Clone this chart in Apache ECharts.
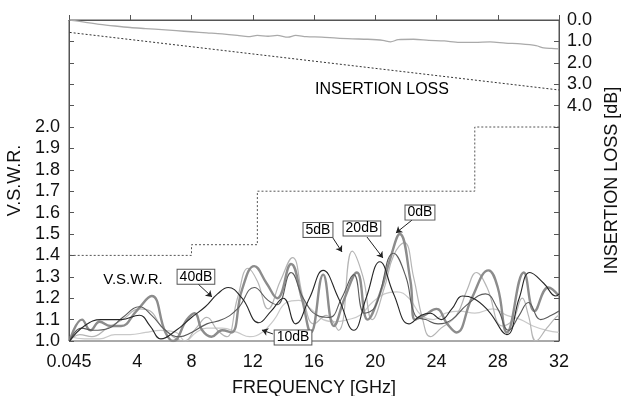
<!DOCTYPE html>
<html>
<head>
<meta charset="utf-8">
<script src="https://cdn.jsdelivr.net/npm/echarts@6/dist/echarts.min.js"></script>
<style>html,body{margin:0;padding:0;background:#fff;}#c{width:623px;height:396px;}</style>
</head>
<body>
<div id="c"></div>
<script>
// ---- data ----
const xTicks = [0, 4, 8, 12, 16, 20, 24, 28, 32];
const xTickLabels = ['0.045', '4', '8', '12', '16', '20', '24', '28', '32'];
const vswrLabelsMax = 2.0;   // left axis labels shown 1.0 .. 2.0
const lossLabelsMax = 4;     // right axis labels shown 0.0 .. 4.0

const vswr40dB = [[0.045,1.0],[1.0,1.07],[2.1,1.1],[3.4,1.1],[4.6,1.12],[5.3,1.07],[6.0,1.01],[7.0,1.05],[8.0,1.11],[8.9,1.16],[9.7,1.22],[10.4,1.25],[11.3,1.2],[12.4,1.085],[13.2,1.14],[14.0,1.2],[14.8,1.08],[15.7,1.2],[16.6,1.33],[17.6,1.2],[18.6,1.05],[19.4,1.2],[20.3,1.37],[21.2,1.22],[22.2,1.08],[23.0,1.12],[23.6,1.13],[24.3,1.1],[25.0,1.15],[25.7,1.21],[26.4,1.2],[27.4,1.14],[28.6,1.03],[29.4,1.2],[30.1,1.32],[31.0,1.27],[31.8,1.21],[32,1.22]];
const vswr20dB = [[0.045,1.0],[0.8,1.06],[1.6,1.05],[2.6,1.06],[3.5,1.11],[4.6,1.16],[5.4,1.12],[6.3,1.05],[7.2,1.02],[8.0,1.04],[9.0,1.08],[10.0,1.1],[11.0,1.15],[12.1,1.25],[13.0,1.19],[13.6,1.17],[14.5,1.32],[15.3,1.2],[16.2,1.12],[17.0,1.11],[17.8,1.2],[18.6,1.31],[19.3,1.13],[20.0,1.16],[21.2,1.41],[22.0,1.3],[22.6,1.12],[23.3,1.1],[24.1,1.08],[25.0,1.1],[26.0,1.17],[27.2,1.22],[28.0,1.15],[28.7,1.05],[29.4,1.12],[30.0,1.18],[30.8,1.1],[31.5,1.12],[32,1.14]];
const vswr0dB = [[0.045,1.0],[0.85,1.1],[1.4,1.05],[2.0,1.09],[2.7,1.07],[3.4,1.07],[4.4,1.14],[5.4,1.21],[6.3,1.04],[6.8,1.0],[7.7,1.1],[8.2,1.13],[8.7,1.05],[9.3,1.02],[10.0,1.05],[10.6,1.04],[11.3,1.24],[12.1,1.35],[12.9,1.27],[13.6,1.2],[14.5,1.36],[15.2,1.2],[15.8,1.04],[16.6,1.31],[17.3,1.07],[18.0,1.2],[18.8,1.32],[19.5,1.1],[20.3,1.22],[21.0,1.39],[21.6,1.5],[22.3,1.28],[22.6,1.1],[23.2,1.12],[24.0,1.15],[24.7,1.08],[25.3,1.04],[26.3,1.2],[27.4,1.33],[28.0,1.25],[28.6,1.04],[29.7,1.32],[30.4,1.14],[31.3,1.25],[32,1.21]];
const vswr5dB = [[0.045,1.0],[0.7,1.03],[1.5,1.02],[2.5,1.06],[3.5,1.1],[4.6,1.15],[5.3,1.14],[6.0,1.07],[6.8,1.02],[7.5,1.0],[8.3,1.06],[9.0,1.11],[9.7,1.05],[10.3,1.02],[11.0,1.2],[11.7,1.34],[12.3,1.28],[13.0,1.15],[13.8,1.28],[14.6,1.39],[15.3,1.2],[16.0,1.08],[16.8,1.12],[17.6,1.05],[18.5,1.42],[19.2,1.3],[19.8,1.1],[20.6,1.25],[21.2,1.4],[21.9,1.46],[22.5,1.3],[23.1,1.1],[23.6,1.02],[24.3,1.06],[25.3,1.12],[26.0,1.24],[26.6,1.32],[27.3,1.25],[28.3,1.07],[29.0,1.1],[29.6,1.2],[30.0,1.12],[30.5,1.0],[31.2,1.06],[31.8,1.11],[32,1.12]];
const vswr10dB = [[0.045,1.02],[1,1.01],[2,1.01],[3,1.03],[4,1.03],[5,1.04],[6,1.05],[7,1.04],[7.6,1.0],[8.3,1.04],[9,1.06],[10,1.06],[11,1.04],[11.8,1.02],[12.6,1.04],[13.4,1.1],[14.2,1.18],[15,1.19],[15.8,1.15],[16.6,1.1],[17.4,1.09],[18.2,1.1],[19,1.12],[19.8,1.18],[20.6,1.22],[21.4,1.23],[22.2,1.2],[23,1.12],[23.8,1.1],[24.6,1.13],[25.5,1.14],[26.5,1.13],[27.7,1.15],[28.6,1.12],[29.5,1.1],[30.3,1.07],[31.2,1.05],[32,1.04]];
const vswrLimit = [[0.045,1.4],[8,1.4],[8,1.45],[12.3,1.45],[12.3,1.7],[26.5,1.7],[26.5,2.0],[32,2.0]];

const lossMeasured = [[0.045,0.0],[1,0.1],[2,0.2],[3,0.28],[4,0.35],[5,0.4],[5.6,0.43],[7,0.5],[8,0.55],[9,0.6],[10,0.65],[11,0.72],[11.7,0.78],[12.3,0.72],[13,0.76],[13.6,0.72],[14.3,0.8],[14.8,0.72],[15.5,0.78],[16.5,0.8],[17.5,0.85],[18.5,0.88],[19.5,0.9],[20.5,0.95],[21,1.02],[21.5,0.92],[22.5,0.9],[23.5,0.95],[24.5,0.98],[25.5,1.05],[26.5,1.05],[27.5,1.02],[28.5,1.08],[29.5,1.12],[30.5,1.2],[31,1.3],[31.5,1.33],[32,1.35]];
const lossLimit = [[0.045,0.58],[32,3.27]];

const annotations = [
  {name:'40dB', value:[8.29,1.30]},
  {name:'10dB', value:[14.63,1.016]},
  {name:'5dB',  value:[16.26,1.519]},
  {name:'20dB', value:[19.13,1.526]},
  {name:'0dB',  value:[22.92,1.60]}
];
const arrows = [
  [[8.36,1.271],[9.34,1.206]],
  [[13.32,1.033],[12.6,1.051]],
  [[17.24,1.481],[17.83,1.416]],
  [[19.46,1.486],[20.5,1.388]],
  [[22.4,1.565],[21.35,1.505]]
];
const plainTexts = [
  {name:'V.S.W.R.', value:[4.18,1.285], size:15},
  {name:'INSERTION LOSS', value:[20.44,2.173], size:16}
];

// ---- chart ----
const FONT = '"Liberation Sans", Arial, Helvetica, sans-serif';
const axisColor = '#555';
const chart = echarts.init(document.getElementById('c'), null, {renderer:'canvas'});

function vswrLine(data, color, width, z) {
  return {type:'line', data:data, smooth:0.45, showSymbol:false, symbol:'none',
          lineStyle:{color:color, width:width}, z:z, xAxisIndex:0, yAxisIndex:0};
}

chart.setOption({
  animation:false,
  backgroundColor:'#fff',
  textStyle:{fontFamily:FONT},
  grid:{left:69, right:64, top:20, bottom:55, containLabel:false, outerBoundsMode:'none',
        show:true, borderColor:axisColor, borderWidth:1, backgroundColor:'transparent'},
  xAxis:{
    type:'value', min:0, max:32, interval:4,
    name:'FREQUENCY [GHz]', nameLocation:'middle', nameGap:38,
    nameTextStyle:{fontSize:18, color:'#111', fontFamily:FONT},
    axisLine:{show:true, lineStyle:{color:axisColor}},
    axisTick:{show:true, inside:true, length:5, lineStyle:{color:axisColor}},
    axisLabel:{fontSize:18, color:'#111', margin:12, fontFamily:FONT,
      formatter:function(v){ const i = xTicks.indexOf(Math.round(v)); if (i<0) return '';
        return xTickLabels[i] === '4' ? '{s|4}' : xTickLabels[i]; },
      rich:{s:{fontSize:18, color:'#111', fontFamily:FONT, padding:[0,0,0,14]}}},
    splitLine:{show:false}
  },
  yAxis:[{
    type:'value', min:1.0, max:2.5, interval:0.1, position:'left',
    name:'V.S.W.R.', nameLocation:'middle', nameGap:42, nameRotate:90,
    nameTextStyle:{fontSize:18, color:'#111', fontFamily:FONT},
    axisLine:{show:true, lineStyle:{color:axisColor}},
    axisTick:{show:true, inside:true, length:5, lineStyle:{color:axisColor}},
    axisLabel:{fontSize:18, color:'#111', margin:9, fontFamily:FONT, showMaxLabel:true,
      formatter:function(v){ const r = Math.round(v*10)/10; return r <= vswrLabelsMax + 1e-9 ? r.toFixed(1) : ''; }},
    splitLine:{show:false}
  },{
    type:'value', min:0, max:15, interval:1, inverse:true, position:'right',
    name:'INSERTION LOSS [dB]', nameLocation:'middle', nameGap:40, nameRotate:90,
    nameTextStyle:{fontSize:18, color:'#111', fontFamily:FONT},
    axisLine:{show:true, lineStyle:{color:axisColor}},
    axisTick:{show:true, inside:true, length:5, lineStyle:{color:axisColor}},
    axisLabel:{fontSize:18, color:'#111', margin:8, fontFamily:FONT,
      formatter:function(v){ const r = Math.round(v); return r <= lossLabelsMax ? r.toFixed(1) : ''; }},
    splitLine:{show:false}
  }],
  series:[
    {type:'line', data:lossMeasured, yAxisIndex:1, smooth:0.3, showSymbol:false, symbol:'none',
     lineStyle:{color:'#aaa', width:1.3}, z:2},
    {type:'line', data:lossLimit, yAxisIndex:1, showSymbol:false, symbol:'none',
     lineStyle:{color:'#333', width:1, type:[2,2]}, z:2},
    {type:'line', data:vswrLimit, yAxisIndex:0, showSymbol:false, symbol:'none',
     lineStyle:{color:'#555', width:1, type:[2,2]}, z:2},
    vswrLine(vswr10dB, '#c9c9c9', 1.2, 3),
    vswrLine(vswr5dB, '#b5b5b5', 1.2, 4),
    vswrLine(vswr0dB, '#8c8c8c', 2.4, 5),
    vswrLine(vswr20dB, '#5a5a5a', 1.1, 6),
    vswrLine(vswr40dB, '#262626', 1.1, 7),
    {type:'lines', coordinateSystem:'cartesian2d', xAxisIndex:0, yAxisIndex:0,
     data:arrows.map(a=>({coords:a})), symbol:['none','arrow'], symbolSize:[0,6],
     lineStyle:{color:'#222', width:1, opacity:1}, z:9, silent:true},
    {type:'scatter', xAxisIndex:0, yAxisIndex:0, data:annotations, symbolSize:0, z:10, silent:true,
     itemStyle:{color:'#111', opacity:1},
     label:{show:true, position:'inside', formatter:'{b}', fontSize:14, color:'#000', fontFamily:FONT,
            opacity:1, textBorderWidth:0, textBorderColor:'transparent',
            backgroundColor:'#fff', borderColor:'#555', borderWidth:1, padding:[1,2,0,2], lineHeight:13}},
    {type:'scatter', xAxisIndex:0, yAxisIndex:0, data:plainTexts.map(t=>({name:t.name, value:t.value,
       label:{fontSize:t.size}})), symbolSize:0, z:10, silent:true,
     itemStyle:{color:'#111', opacity:1},
     label:{show:true, position:'inside', formatter:'{b}', color:'#000', fontFamily:FONT,
            opacity:1, textBorderWidth:0, textBorderColor:'transparent'}}
  ]
});
</script>
</body>
</html>
